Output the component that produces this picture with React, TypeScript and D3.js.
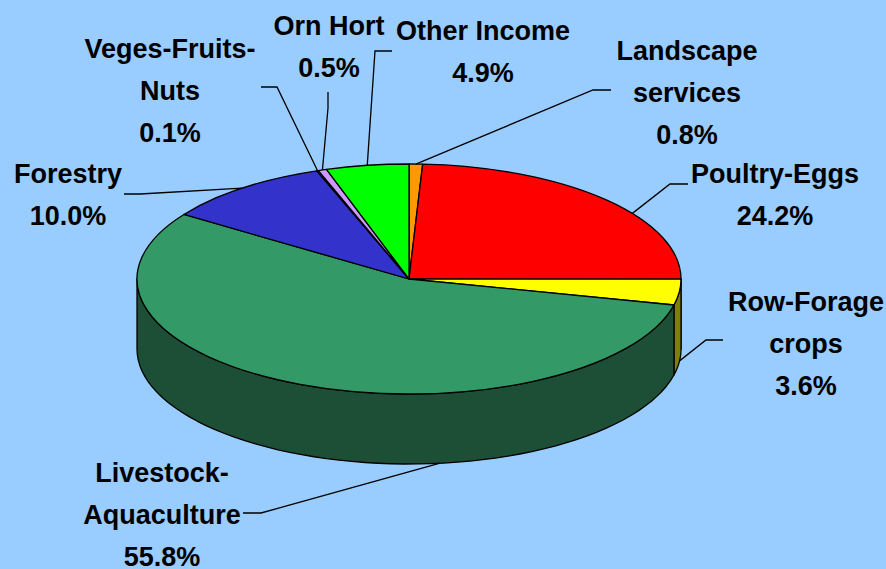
import React from "react";
import * as d3 from "d3";

const categories = [
  "Landscape services",
  "Poultry-Eggs",
  "Row-Forage crops",
  "Livestock-Aquaculture",
  "Forestry",
  "Veges-Fruits-Nuts",
  "Orn Hort",
  "Other Income",
];
const values = [0.8, 24.2, 3.6, 55.8, 10.0, 0.1, 0.5, 4.9];
const topColors = ["#FF9900", "#FF0000", "#FFFF00", "#339966", "#3333CC", "#CC99FF", "#CC99FF", "#00FF00"];
const sideColors = ["#804D00", "#800000", "#808000", "#1C4F36", "#1A1A66", "#664D80", "#664D80", "#008000"];

// wrapped label lines, same order as categories
const labelLines = [
  ["Landscape", "services"],
  ["Poultry-Eggs"],
  ["Row-Forage", "crops"],
  ["Livestock-", "Aquaculture"],
  ["Forestry"],
  ["Veges-Fruits-", "Nuts"],
  ["Orn Hort"],
  ["Other Income"],
];
const labelPos = [
  [687, 60],
  [775, 183],
  [806, 311],
  [162, 482],
  [68, 183],
  [170, 58],
  [329, 35],
  [483, 40],
];
// leader lines: angle on the rim (fraction into the slice), whether it hangs off the wall, then the elbow and end
const leaders = [
  { t: 0.5, wall: false, elbow: [593, 90], end: [611, 90] },
  { t: 0.6, wall: false, elbow: [670, 184], end: [688, 184] },
  { t: 0.45, wall: true, elbow: [706, 340], end: [723, 340] },
  { t: 0.35, wall: true, elbow: [261, 513], end: [243, 513] },
  { t: 0.5, wall: false, elbow: [140, 194], end: [124, 194] },
  { t: 0.5, wall: false, elbow: [277, 87], end: [261, 87] },
  { t: 0.5, wall: false, elbow: [328, 108], end: [328, 92] },
  { t: 0.5, wall: false, elbow: [375, 51], end: [392, 51] },
];

const width = 886;
const height = 569;
const cx = 409;
const cy = 279;
const rx = 272;
const ry = 115;
const depth = 70;
const fontSize = 27;
const lineGap = 42;

const rim = (a: number, drop = 0): [number, number] => [
  cx + rx * Math.sin(a),
  cy - ry * Math.cos(a) + drop,
];

const App = () => {
  const slices = d3
    .pie<number>()
    .sort(null)
    .value((d) => d)(values);

  const arc = d3
    .arc<d3.PieArcDatum<number>>()
    .innerRadius(0)
    .outerRadius(rx);

  const line = d3.line();

  // the wall only shows on the front half of the ellipse
  const wallPath = (s: d3.PieArcDatum<number>) => {
    const a0 = Math.max(s.startAngle, Math.PI / 2);
    const a1 = Math.min(s.endAngle, (3 * Math.PI) / 2);
    if (a1 <= a0) return null;
    const steps = d3.range(0, 61).map((i) => a0 + ((a1 - a0) * i) / 60);
    const top = steps.map((a) => rim(a));
    const bottom = steps.map((a) => rim(a, depth)).reverse();
    return line([...top, ...bottom]) + "Z";
  };

  return (
    <svg
      width={width}
      height={height}
      style={{ position: "fixed", left: 0, top: 0, background: "#99CCFF" }}
    >
      {slices.map((s, i) => {
        const d = wallPath(s);
        return d ? (
          <path key={i} d={d} fill={sideColors[i]} stroke="#000" strokeWidth={1.3} strokeLinejoin="round" />
        ) : null;
      })}
      <g transform={`translate(${cx},${cy}) scale(1,${ry / rx})`}>
        {slices.map((s, i) => (
          <path
            key={i}
            d={arc(s) as string}
            fill={topColors[i]}
            stroke="#000"
            strokeWidth={1.3}
            strokeLinejoin="round"
            vectorEffect="non-scaling-stroke"
          />
        ))}
      </g>
      {leaders.map((l, i) => {
        const s = slices[i];
        const a = s.startAngle + (s.endAngle - s.startAngle) * l.t;
        const start = rim(a, l.wall ? depth : 0);
        return (
          <path
            key={i}
            d={line([start, l.elbow as [number, number], l.end as [number, number]]) as string}
            fill="none"
            stroke="#000"
            strokeWidth={1.3}
          />
        );
      })}
      <g
        fontFamily="'Liberation Sans', Arial, sans-serif"
        fontWeight="bold"
        fontSize={fontSize}
        textAnchor="middle"
        fill="#000"
      >
        {categories.map((c, i) => {
          const [x, y] = labelPos[i];
          const lines = [...labelLines[i], values[i].toFixed(1) + "%"];
          return (
            <text key={c} x={x} y={y}>
              {lines.map((t, j) => (
                <tspan key={j} x={x} y={y + j * lineGap}>
                  {t}
                </tspan>
              ))}
            </text>
          );
        })}
      </g>
    </svg>
  );
};

export default App;
